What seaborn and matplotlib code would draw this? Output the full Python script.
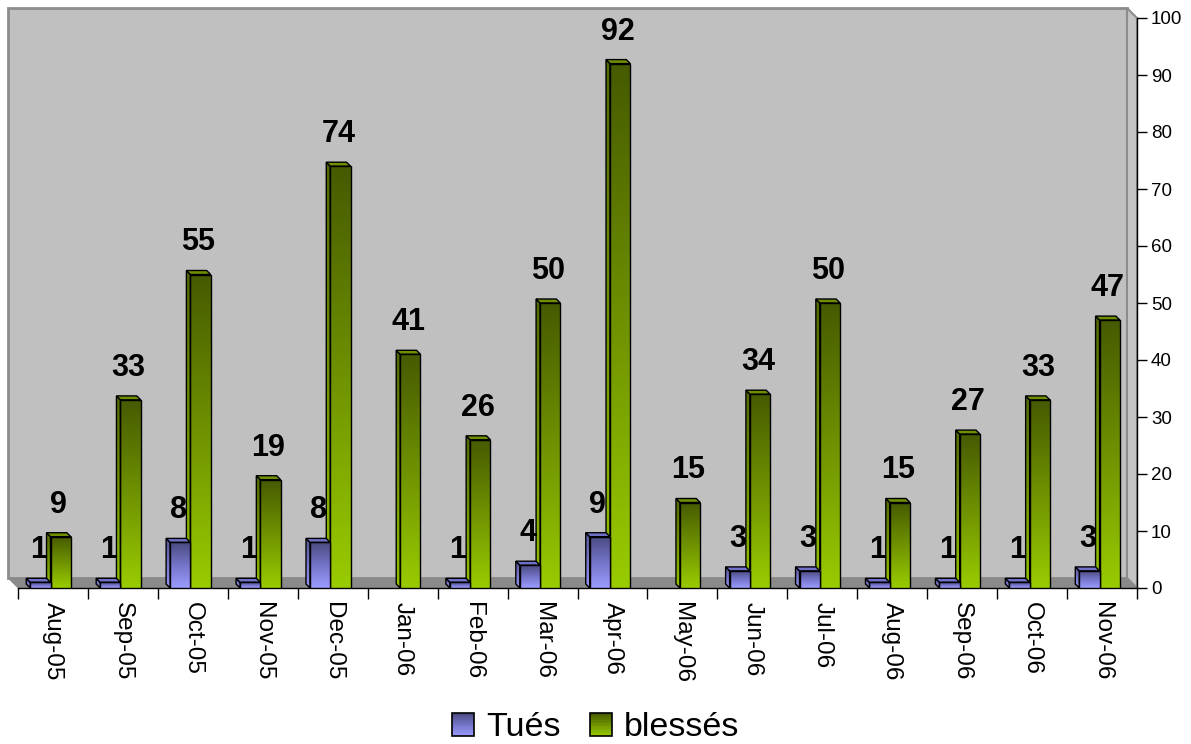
import numpy as np
import pandas as pd
import matplotlib
matplotlib.use("Agg")
import matplotlib.pyplot as plt
import seaborn as sns
from matplotlib.colors import LinearSegmentedColormap
from matplotlib.patches import Polygon, Rectangle
from matplotlib.legend_handler import HandlerBase

# Monthly casualty counts
months = ["Aug-05", "Sep-05", "Oct-05", "Nov-05", "Dec-05", "Jan-06", "Feb-06", "Mar-06",
          "Apr-06", "May-06", "Jun-06", "Jul-06", "Aug-06", "Sep-06", "Oct-06", "Nov-06"]
tues = [1, 1, 8, 1, 8, 0, 1, 4, 9, 0, 3, 3, 1, 1, 1, 3]
blesses = [9, 33, 55, 19, 74, 41, 26, 50, 92, 15, 34, 50, 15, 27, 33, 47]
series_names = ["Tués", "blessés"]
y_ticks = list(range(0, 101, 10))

sns.set_style("white")
plt.rcParams["font.family"] = ["Liberation Sans", "DejaVu Sans"]
plt.rcParams["text.color"] = "black"
plt.rcParams["xtick.color"] = "black"
plt.rcParams["ytick.color"] = "black"

df = pd.DataFrame({
    "mois": months * 2,
    "série": [series_names[0]] * len(months) + [series_names[1]] * len(months),
    "valeur": tues + blesses,
})

# gradient fills: light at the base, dark at the top of each column
cmap_blue = LinearSegmentedColormap.from_list("bleu", ["#9c9cff", "#7474c8", "#4a4a80"])
cmap_green = LinearSegmentedColormap.from_list("vert", ["#99cc00", "#6f9200", "#465a00"])
top_colors = {"Tués": "#7070c8", "blessés": "#6f8f00"}
cmaps = {"Tués": cmap_blue, "blessés": cmap_green}

fig = plt.figure(figsize=(11.91, 7.44), dpi=100)
fig.patch.set_facecolor("white")
ax = fig.add_axes([18 / 1191, 156 / 744, 1119 / 1191, 570 / 744])

sns.barplot(data=df, x="mois", y="valeur", hue="série", order=months,
            hue_order=series_names, width=0.58, dodge=True, errorbar=None,
            palette={"Tués": "#7474c8", "blessés": "#6f9200"}, ax=ax, legend=False)

ax.set_xlim(-0.5, len(months) - 0.5)
ax.set_ylim(0, 100)
ax.set_facecolor("none")

# pixel -> data unit conversion for the pseudo-3D depth
p0, p1 = ax.transData.transform([[0, 0], [1, 1]])
ux = 1.0 / (p1[0] - p0[0])
uy = 1.0 / (p1[1] - p0[1])

# walls and floor
wdx, wdy = -10 * ux, 10 * uy
xl, xr = -0.5, len(months) - 0.5
wall = Polygon([(xl + wdx, wdy), (xr + wdx, wdy), (xr + wdx, 100 + wdy), (xl + wdx, 100 + wdy)],
               closed=True, facecolor="#c0c0c0", edgecolor="#8c8c8c", lw=2,
               clip_on=False, zorder=0.1)
side = Polygon([(xr, 0), (xr, 100), (xr + wdx, 100 + wdy), (xr + wdx, wdy)],
               closed=True, facecolor="#c4c4c4", edgecolor="#8c8c8c", lw=1.5,
               clip_on=False, zorder=0.2)
floor = Polygon([(xl, 0), (xr, 0), (xr + wdx, wdy), (xl + wdx, wdy)],
                closed=True, facecolor="#8a8a8a", edgecolor="#8a8a8a", lw=0.5,
                clip_on=False, zorder=0.3)
for p in (wall, side, floor):
    ax.add_patch(p)

# columns drawn as prisms: front face, left face, top face
bdx, bdy = -4 * ux, 4 * uy
shift = -0.035
grad = np.linspace(0, 1, 256).reshape(-1, 1)
series_values = {"Tués": tues, "blessés": blesses}
zbase = {"Tués": 4, "blessés": 2}

for container, name in zip(ax.containers, series_names):
    cmap = cmaps[name]
    z = zbase[name]
    for patch, val in zip(container.patches, series_values[name]):
        x0 = patch.get_x() + shift
        w = patch.get_width()
        h = patch.get_height()
        if val == 0:
            patch.set_visible(False)
            continue
        patch.set_x(x0)
        patch.set_facecolor("none")
        patch.set_edgecolor("black")
        patch.set_linewidth(1.0)
        patch.set_zorder(z + 0.5)

        # left face
        lf = Polygon([(x0, 0), (x0, h), (x0 + bdx, h + bdy), (x0 + bdx, bdy)], closed=True,
                     facecolor="none", edgecolor="black", lw=1.0, zorder=z + 0.3)
        ax.add_patch(lf)
        im_side = ax.imshow(grad, extent=(x0 + bdx, x0, 0, h + bdy), origin="lower",
                            cmap=cmap, vmin=-0.1, vmax=1.15, aspect="auto",
                            interpolation="bilinear", zorder=z + 0.1)
        im_side.set_clip_path(lf)

        # front face
        ax.imshow(grad, extent=(x0, x0 + w, 0, h), origin="lower", cmap=cmap,
                  vmin=0, vmax=1, aspect="auto", interpolation="bilinear", zorder=z + 0.2)

        # top face
        tf = Polygon([(x0, h), (x0 + w, h), (x0 + w + bdx, h + bdy), (x0 + bdx, h + bdy)],
                     closed=True, facecolor=top_colors[name], edgecolor="black", lw=1.0,
                     zorder=z + 0.4)
        ax.add_patch(tf)

        # value label
        ax.annotate(f"{val}", xy=(x0 + w / 2 + bdx / 2, h), xytext=(0, 32),
                    textcoords="offset pixels", ha="center", va="center",
                    fontsize=22, fontweight="bold", color="black", zorder=10,
                    annotation_clip=False)

ax.set_xlim(-0.5, len(months) - 0.5)
ax.set_ylim(0, 100)
ax.set_xlabel("")
ax.set_ylabel("")

# axes: value scale on the right, month labels rotated under the floor
for s in ("top", "left"):
    ax.spines[s].set_visible(False)
for s in ("bottom", "right"):
    ax.spines[s].set_color("black")
    ax.spines[s].set_linewidth(1.0)
    ax.spines[s].set_zorder(1)

ax.yaxis.tick_right()
ax.set_yticks(y_ticks)
ax.set_yticklabels([str(t) for t in y_ticks])
ax.tick_params(axis="y", which="major", direction="out", length=7, width=1,
               color="black", labelcolor="black", labelsize=13.5, pad=3,
               right=True, left=False)

ax.set_xticks(range(len(months)))
ax.set_xticklabels(months, rotation=270, ha="center", va="top")
ax.set_xticks(np.arange(-0.5, len(months), 1), minor=True)
ax.tick_params(axis="x", which="major", length=0, labelsize=17.5, pad=10,
               labelcolor="black")
ax.tick_params(axis="x", which="minor", direction="out", length=8, width=1, color="black",
               bottom=True)


class GradientSwatch(HandlerBase):
    def __init__(self, cmap):
        super().__init__()
        self.cmap = cmap

    def create_artists(self, legend, orig_handle, xdescent, ydescent, width, height,
                       fontsize, trans):
        n = 16
        arts = []
        for i in range(n):
            r = Rectangle((-xdescent, -ydescent + height * i / n), width, height / n,
                          facecolor=self.cmap((i + 0.5) / n), edgecolor="none",
                          transform=trans)
            arts.append(r)
        arts.append(Rectangle((-xdescent, -ydescent), width, height, facecolor="none",
                              edgecolor="black", lw=1.2, transform=trans))
        return arts


h_b = Rectangle((0, 0), 1, 1)
h_g = Rectangle((0, 0), 1, 1)
leg = fig.legend(handles=[h_b, h_g], labels=series_names,
                 handler_map={h_b: GradientSwatch(cmap_blue), h_g: GradientSwatch(cmap_green)},
                 loc="center", bbox_to_anchor=(0.5, 16 / 744), ncol=2, frameon=False,
                 fontsize=24.5, handlelength=0.66, handleheight=0.66, handletextpad=0.35,
                 columnspacing=0.85, borderpad=0)
for t in leg.get_texts():
    t.set_color("black")

fig.savefig("out.png", dpi=100)
